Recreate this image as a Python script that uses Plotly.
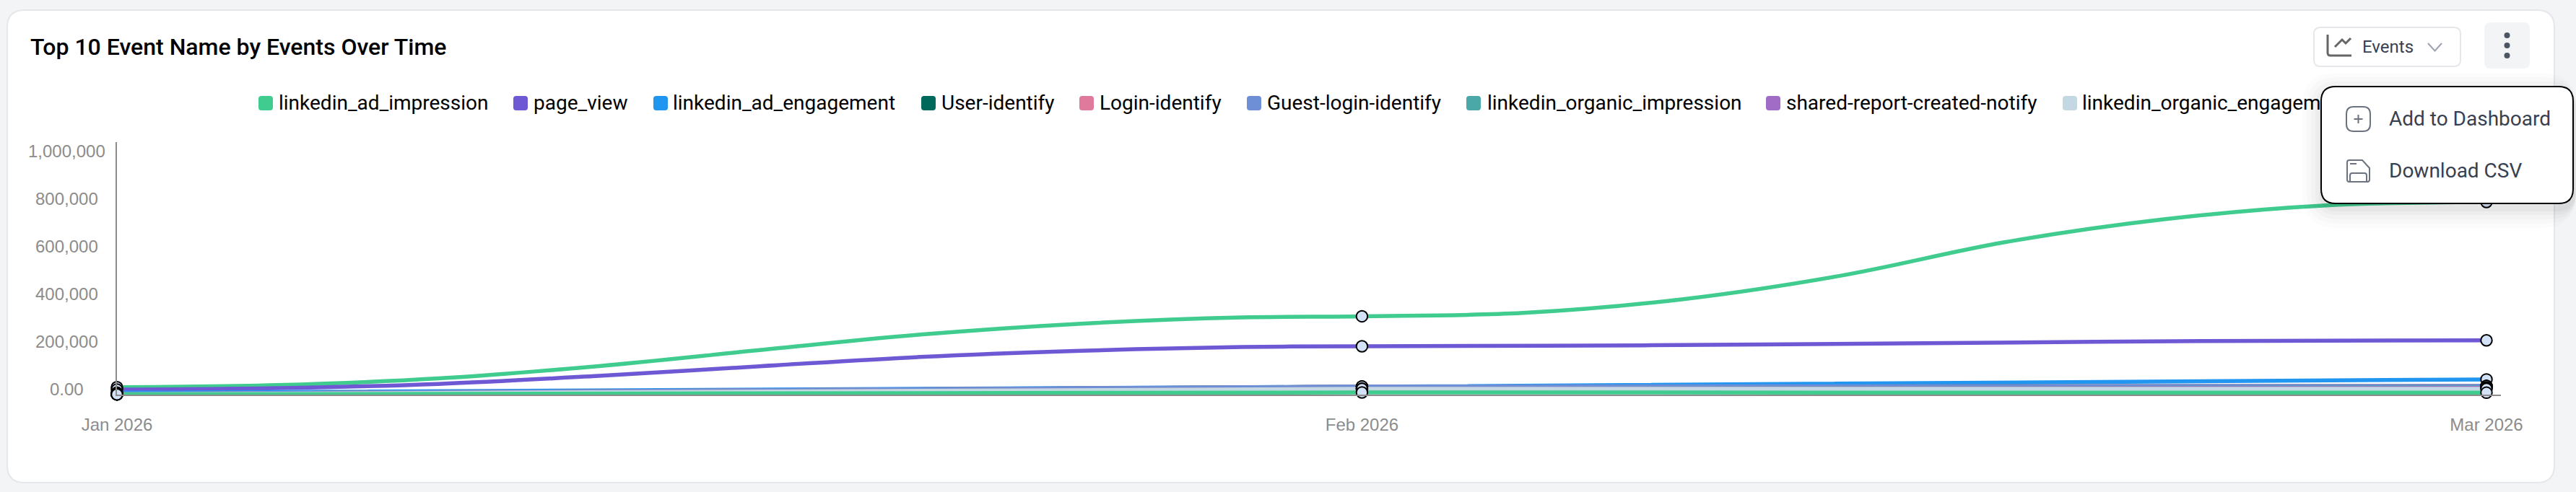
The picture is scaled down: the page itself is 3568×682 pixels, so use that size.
import plotly.graph_objects as go

# ---------- data ----------
MONTHS = ["2026-01-01", "2026-02-01", "2026-03-01"]
TICK_LABELS_X = ["Jan 2026", "Feb 2026", "Mar 2026"]
Y_TICKS = [0, 200000, 400000, 600000, 800000, 1000000]
Y_LABELS = ["0.00", "200,000", "400,000", "600,000", "800,000", "1,000,000"]

LEGEND_NAMES = ["linkedin_ad_impression", "page_view", "linkedin_ad_engagement", "User-identify",
                "Login-identify", "Guest-login-identify", "linkedin_organic_impression",
                "shared-report-created-notify", "linkedin_organic_engagem"]

ad_impression = [31000, 329000, 809000]
page_view = [21000, 203000, 228000]
ad_engagement = [8000, 33000, 64000]
user_identify = [2000, 33000, 36000]
login_identify = [2000, 33000, 36000]
guest_login = [3000, 34000, 36000]
organic_impression = [1000, 24000, 30000]
shared_report = [1000, 24000, 28000]
organic_engagement = [1000, 24000, 24000]
tenth_series = [1000, 9000, 8000]

# points read along the drawn curves of the two large series
ad_impression_dates = ["2026-01-01", "2026-01-05", "2026-01-09", "2026-01-13", "2026-01-17", "2026-01-21",
                       "2026-01-25", "2026-01-29", "2026-02-01", "2026-02-05", "2026-02-09", "2026-02-13",
                       "2026-02-17", "2026-02-21", "2026-02-25", "2026-03-01"]
ad_impression_curve = [31000, 40000, 68000, 120000, 187000, 252000, 298000, 324000, 329000,
                       343000, 401000, 502000, 640000, 737000, 795000, 809000]
page_view_dates = ["2026-01-01", "2026-01-05", "2026-01-09", "2026-01-13", "2026-01-17", "2026-01-21",
                   "2026-01-25", "2026-01-29", "2026-02-01", "2026-02-08", "2026-02-15", "2026-02-22", "2026-03-01"]
page_view_curve = [21000, 27000, 45000, 79000, 119000, 158000, 184000, 200000, 203000,
                   207000, 216000, 225000, 228000]

SERIES = [ad_impression, page_view, ad_engagement, user_identify, login_identify, guest_login,
          organic_impression, shared_report, organic_engagement, tenth_series]
SERIES_NAMES = LEGEND_NAMES + ["(tenth series, behind the menu)"]
COLORS = ["#40CB8F", "#6F58D3", "#2196F0", "#00695C", "#E07A9C", "#6E8FD6", "#4AA8A8", "#A06CC6", "#C3D8E2", "#40CB8F"]

# ---------- layout constants ----------
W, H = 3568, 682
L, R, T, B = 162, 3464, 197, 547
Y_MAX = 1000000 * (B - T) / 330
TEXT = "#374151"
ICON = "#6B7280"


def px(x):
    return (x - L) / (R - L)


def py(y):
    return (B - y) / (B - T)


def pth(cmds):
    out = []
    for c in cmds:
        if isinstance(c, str):
            out.append(c)
        else:
            out.append(f"{px(c[0]):.6f},{py(c[1]):.6f}")
    return " ".join(out)


def rrect(x0, y0, x1, y1, r):
    return pth(["M", (x0 + r, y0), "L", (x1 - r, y0), "Q", (x1, y0), (x1, y0 + r), "L", (x1, y1 - r),
                "Q", (x1, y1), (x1 - r, y1), "L", (x0 + r, y1), "Q", (x0, y1), (x0, y1 - r), "L", (x0, y0 + r),
                "Q", (x0, y0), (x0 + r, y0), "Z"])


def shape(path, fill="rgba(0,0,0,0)", color="rgba(0,0,0,0)", width=0, layer="above"):
    return dict(type="path", xref="paper", yref="paper", path=path, fillcolor=fill,
                line=dict(color=color, width=width), layer=layer)


def label(x, y, text, size=28, color="#000000", weight=400, anchor="left", family="Roboto"):
    return dict(xref="paper", yref="paper", x=px(x), y=py(y), text=text, showarrow=False,
                xanchor=anchor, yanchor="middle", align="left", borderpad=0,
                font=dict(family=family, size=size, color=color, weight=weight))


fig = go.Figure()

for i, (name, vals, col) in enumerate(zip(SERIES_NAMES, SERIES, COLORS)):
    xs, ys = MONTHS, vals
    if i == 0:
        xs, ys = ad_impression_dates, ad_impression_curve
    elif i == 1:
        xs, ys = page_view_dates, page_view_curve
    fig.add_trace(go.Scatter(x=xs, y=ys, name=name, mode="lines", cliponaxis=False, showlegend=False,
                             line=dict(color=col, width=5.5, shape="spline", smoothing=1.0)))
for name, vals in zip(SERIES_NAMES, SERIES):
    fig.add_trace(go.Scatter(x=MONTHS, y=vals, name=name, mode="markers", cliponaxis=False, showlegend=False,
                             marker=dict(size=15.5, color="#D3E2F6", line=dict(color="#000000", width=2))))

shapes = [
    shape(rrect(10, 14, 3538, 669, 24), fill="#FFFFFF", color="#E5E7EB", width=2, layer="below"),
    # Events button
    shape(rrect(3205, 38, 3408, 92, 9), fill="#FFFFFF", color="#E5E7EB", width=2),
    shape(pth(["M", (3224, 48), "L", (3224, 73), "Q", (3224, 77), (3228, 77), "L", (3257, 77)]), color="#666666", width=3),
    shape(pth(["M", (3234, 65), "L", (3244, 55), "L", (3249, 60), "L", (3256, 53)]), color="#666666", width=3),
    shape(pth(["M", (3363, 60), "L", (3372.5, 70.5), "L", (3382, 60)]), color="#9CA3AF", width=2),
    # kebab button
    shape(rrect(3441, 31, 3504, 95, 9), fill="#F3F4F6"),
]
for dot_y in (49, 63, 77):
    shapes.append(shape(rrect(3468.5, dot_y - 4, 3476.5, dot_y + 4, 4), fill="#4B5563"))
# legend chips
CHIP_X = [358, 711, 905, 1276, 1495, 1727, 2031, 2446, 2857]
TEXT_X = [385, 738, 931, 1303, 1522, 1754, 2059, 2473, 2883]
for cx, col in zip(CHIP_X, COLORS):
    shapes.append(shape(rrect(cx, 133, cx + 20, 153, 4), fill=col))
# menu shadow
for grow, alpha in ((26, 0.012), (20, 0.014), (14, 0.018), (8, 0.022), (3, 0.03)):
    shapes.append(shape(rrect(3215 - grow, 119 - grow + 8, min(3215 + 349 + grow, 3568), 282 + grow + 8, 22 + grow),
                        fill=f"rgba(0,0,0,{alpha})"))
shapes += [
    shape(rrect(3215, 120, 3564, 282, 20), fill="#FFFFFF", color="#000000", width=2),
    shape(rrect(3250, 148, 3283, 182, 10), color=ICON, width=2),
    shape(pth(["M", (3260.5, 165), "L", (3272.5, 165), "M", (3266.5, 159), "L", (3266.5, 171)]), color=ICON, width=2),
    shape(pth(["M", (3254, 222), "L", (3272, 222), "L", (3282, 233), "L", (3282, 249), "Q", (3282, 252), (3279, 252),
               "L", (3254, 252), "Q", (3251, 252), (3251, 249), "L", (3251, 225), "Q", (3251, 222), (3254, 222), "Z"]),
          color=ICON, width=2),
    shape(pth(["M", (3255, 252), "L", (3255, 243), "Q", (3255, 240), (3258, 240), "L", (3275, 240), "Q", (3278, 240),
               (3278, 243), "L", (3278, 252)]), color=ICON, width=2),
    shape(pth(["M", (3255, 227), "L", (3264, 227)]), color=ICON, width=2),
]

annotations = [label(41, 65, "Top 10 Event Name by Events Over Time", size=32, color="#000000", weight=500),
               label(3271, 65, "Events", size=24, color=TEXT),
               label(3308, 164, "Add to Dashboard", size=28, color=TEXT),
               label(3308, 236, "Download CSV", size=28, color=TEXT)]
for x, name in zip(TEXT_X, LEGEND_NAMES):
    annotations.append(label(x, 143, name, size=28))
for v, t in zip(Y_TICKS, Y_LABELS):
    annotations.append(dict(xref="paper", yref="y", x=px(92), y=v, yshift=8, text=t, showarrow=False,
                            xanchor="center", yanchor="middle",
                            font=dict(family="Liberation Sans", size=24, color="#8C8C8C")))

fig.update_layout(
    width=W, height=H, autosize=False,
    margin=dict(l=L, r=W - R, t=T, b=H - B, pad=0),
    paper_bgcolor="#F3F4F6", plot_bgcolor="rgba(0,0,0,0)",
    showlegend=False, shapes=shapes, annotations=annotations,
    xaxis=dict(type="date", range=["2026-01-01", "2026-03-01 08:38"], tickmode="array", tickvals=MONTHS,
               ticktext=TICK_LABELS_X, showgrid=False, zeroline=False, showline=True, linecolor="#8C8C8C",
               linewidth=2, ticks="", ticklabelstandoff=19,
               tickfont=dict(family="Liberation Sans", size=24, color="#8C8C8C")),
    yaxis=dict(range=[0, Y_MAX], tickmode="array", tickvals=Y_TICKS, showticklabels=False, showgrid=False,
               zeroline=False, showline=True, linecolor="#8C8C8C", linewidth=2, ticks=""),
)

fig.write_html("out.html", config=dict(displayModeBar=False),
               post_script="document.body.style.margin='0';document.body.style.overflow='hidden';")
